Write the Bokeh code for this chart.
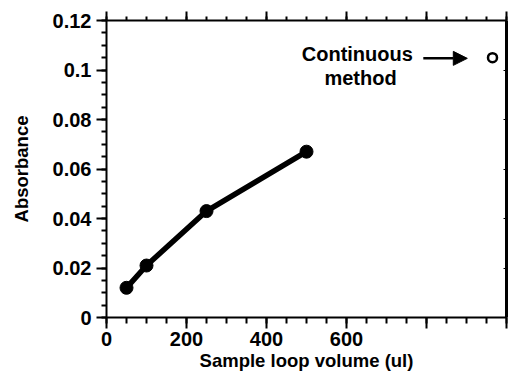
from bokeh.plotting import figure
from bokeh.models import (Range1d, FixedTicker, LinearAxis, CustomJSTickFormatter,
                          Arrow, NormalHead, ColumnDataSource)
from bokeh.core.properties import value
from bokeh.embed import file_html
from bokeh.resources import INLINE

# Data
loop_volume = [50, 100, 250, 500]
absorbance = [0.012, 0.021, 0.043, 0.067]
continuous_x = [965]
continuous_y = [0.105]
x_major = [0, 200, 400, 600, 800, 1000]
x_minor = [v for v in range(0, 1001, 50)]
y_major = [0, 0.02, 0.04, 0.06, 0.08, 0.1, 0.12]
y_minor = [round(i * 0.005, 3) for i in range(0, 25)]
note_lines = ["Continuous", "method"]
note_x = [627, 635]
note_y = [0.1063, 0.0966]
arrow_start = (792, 0.1047)
arrow_end = (902, 0.1047)

FONT = "Liberation Sans"
TICK_FS = "20px"
LABEL_FS = "18.5px"

p = figure(width=510, height=373, output_backend="svg", toolbar_location=None,
           x_range=Range1d(0, 1000), y_range=Range1d(0, 0.12),
           min_border_left=106, min_border_right=4, min_border_top=20, min_border_bottom=56,
           x_axis_label="Sample loop volume (ul)", y_axis_label="Absorbance")
p.outline_line_color = None
p.grid.visible = False
p.background_fill_color = "white"
p.border_fill_color = "white"

xfmt = CustomJSTickFormatter(code="return tick > 600 ? '' : tick.toFixed(0);")
yfmt = CustomJSTickFormatter(code="return parseFloat(tick.toFixed(3)).toString();")

xa = p.xaxis[0]
xa.ticker = FixedTicker(ticks=x_major, minor_ticks=x_minor)
xa.formatter = xfmt
ya = p.yaxis[0]
ya.ticker = FixedTicker(ticks=y_major, minor_ticks=y_minor)
ya.formatter = yfmt

for ax in (xa, ya):
    ax.axis_line_width = 2
    ax.axis_line_color = "black"
    ax.major_tick_line_width = 2
    ax.minor_tick_line_width = 2
    ax.major_tick_line_color = "black"
    ax.minor_tick_line_color = "black"
    ax.major_tick_in = 0
    ax.minor_tick_in = 0
    ax.major_label_text_font = FONT
    ax.major_label_text_font_size = TICK_FS
    ax.major_label_text_font_style = "bold"
    ax.major_label_text_color = "black"
    ax.axis_label_text_font = FONT
    ax.axis_label_text_font_size = LABEL_FS
    ax.axis_label_text_font_style = "bold"
    ax.axis_label_text_color = "black"

xa.major_tick_out = 11
xa.minor_tick_out = 6
xa.major_label_standoff = 3
xa.axis_label_standoff = 1
ya.major_tick_out = 10
ya.minor_tick_out = 5
ya.major_label_standoff = 5
ya.axis_label_standoff = 18

top = LinearAxis(ticker=FixedTicker(ticks=x_major, minor_ticks=x_minor),
                 major_label_text_font_size="0px", axis_line_width=2,
                 major_tick_line_width=2, minor_tick_line_width=2,
                 major_tick_out=9, minor_tick_out=4, major_tick_in=0, minor_tick_in=0)
top.formatter = CustomJSTickFormatter(code="return '';")
p.add_layout(top, "above")

right = LinearAxis(ticker=FixedTicker(ticks=y_major, minor_ticks=[]),
                   major_label_text_font_size="0px", axis_line_width=3,
                   major_tick_line_width=1, major_tick_out=0, major_tick_in=3,
                   minor_tick_out=0, minor_tick_in=0)
right.formatter = CustomJSTickFormatter(code="return '';")
p.add_layout(right, "right")

src = ColumnDataSource(dict(x=loop_volume, y=absorbance))
p.line("x", "y", source=src, line_width=5.5, line_color="black")
p.scatter("x", "y", source=src, size=13, fill_color="black", line_color="black")

p.scatter(continuous_x, continuous_y, size=9, fill_color="white", line_color="black", line_width=2.5)

p.text(note_x, note_y, text=note_lines, text_font=value(FONT), text_font_size="20px",
       text_font_style="bold", text_align="center", text_baseline="middle", text_color="black")

p.add_layout(Arrow(end=NormalHead(size=14, fill_color="black", line_color="black"),
                   x_start=arrow_start[0], y_start=arrow_start[1],
                   x_end=arrow_end[0], y_end=arrow_end[1], line_width=2.5, line_color="black"))

open("out.html", "w").write(file_html(p, INLINE))
